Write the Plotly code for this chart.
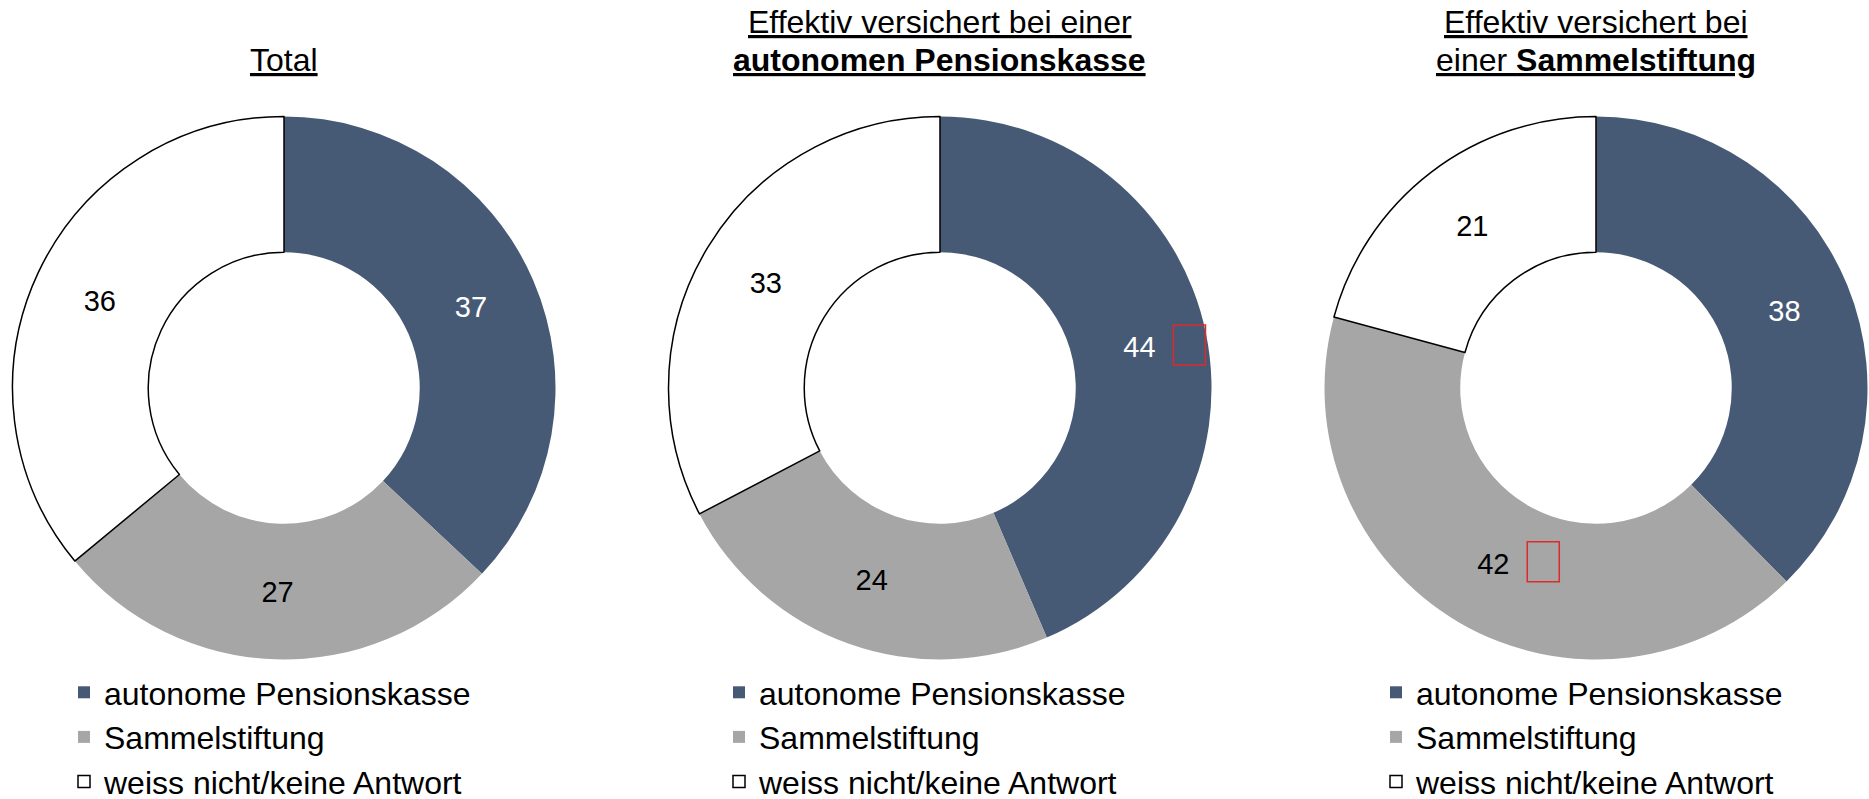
import math
import plotly.graph_objects as go

W, H = 1869, 799

categories = ["autonome Pensionskasse", "Sammelstiftung", "weiss nicht/keine Antwort"]
colors = ["#475A75", "#A6A6A6", "#FFFFFF"]
text_colors = ["#FFFFFF", "#000000", "#000000"]

# title lines per chart (each line rendered separately)
titles = [
    ["<u>Total</u>"],
    ["<u>Effektiv versichert bei einer</u>", "<u><b>autonomen Pensionskasse</b></u>"],
    ["<u>Effektiv versichert bei</u>", "<u>einer <b>Sammelstiftung</b></u>"],
]
values_total = [37, 27, 36]
values_autonom = [44, 24, 33]
values_sammel = [38, 42, 21]
all_values = [values_total, values_autonom, values_sammel]
# indices of slices marked with a red (significance) box
flagged = [[], [0], [1]]

HOLE = 0.5
FONT = "Liberation Sans, Arial, sans-serif"

# layout geometry (pixels from top-left)
centers_x = [284, 940, 1596]
center_y = 388
R = 271.5
legend_left = [64, 719, 1376]
title_line_y = [60, 21.5]  # last line, line above

x_domains = [[(c - R) / W, min(1.0, (c + R) / W)] for c in centers_x]
y_domain = [1 - (center_y + R) / H, 1 - (center_y - R) / H]
legend_names = ["legend", "legend2", "legend3"]

fig = go.Figure()
for i, vals in enumerate(all_values):
    # zero-width suffix keeps each chart's legend entries separate
    labels_i = [c + "\u200b" * i for c in categories]
    fig.add_trace(go.Pie(
        labels=labels_i,
        values=vals,
        text=[str(v) for v in vals],
        textinfo="text",
        textposition="inside",
        insidetextorientation="horizontal",
        textfont=dict(family=FONT, size=29, color=text_colors),
        marker=dict(colors=colors, line=dict(color="#000000", width=[0, 0, 1.5])),
        hole=HOLE,
        sort=False,
        direction="clockwise",
        rotation=0,
        domain=dict(x=x_domains[i], y=y_domain),
        legend=legend_names[i],
        showlegend=True,
        hoverinfo="label+value",
    ))

annotations = []
shapes = []
for i in range(3):
    cx = centers_x[i] / W
    lines = titles[i]
    for j, line in enumerate(reversed(lines)):
        annotations.append(dict(
            x=cx, y=1 - title_line_y[j] / H, xref="paper", yref="paper",
            xanchor="center", yanchor="middle",
            text=line, showarrow=False, align="center",
            font=dict(family=FONT, size=32, color="#000000"),
        ))
    vals = all_values[i]
    tot = sum(vals)
    rl = R * (1 + HOLE) / 2
    for k in flagged[i]:
        mid = (sum(vals[:k]) + vals[k] / 2) / tot * 2 * math.pi
        lx = centers_x[i] + rl * math.sin(mid)
        ly = center_y - rl * math.cos(mid)
        bx = lx + 50
        by = ly - 2
        shapes.append(dict(
            type="rect", xref="paper", yref="paper",
            x0=(bx - 16) / W, x1=(bx + 16) / W,
            y0=1 - (by + 20) / H, y1=1 - (by - 20) / H,
            line=dict(color="#DC2B2B", width=1.5), fillcolor="rgba(0,0,0,0)",
        ))

legend_common = dict(
    font=dict(family=FONT, size=32, color="#000000"),
    yanchor="top", y=1 - 665 / H, xanchor="left",
    bgcolor="rgba(0,0,0,0)", borderwidth=0,
    itemclick=False, itemdoubleclick=False,
    tracegroupgap=0,
)

fig.update_layout(
    width=W, height=H, autosize=False,
    margin=dict(l=0, r=0, t=0, b=0, autoexpand=False),
    paper_bgcolor="#FFFFFF", plot_bgcolor="#FFFFFF",
    annotations=annotations,
    shapes=shapes,
    legend=dict(x=legend_left[0] / W, **legend_common),
    legend2=dict(x=legend_left[1] / W, **legend_common),
    legend3=dict(x=legend_left[2] / W, **legend_common),
    font=dict(family=FONT),
)

fig.write_html(
    "out.html",
    config={"displayModeBar": False},
    post_script="document.body.style.margin='0';document.body.style.overflow='hidden';",
)
